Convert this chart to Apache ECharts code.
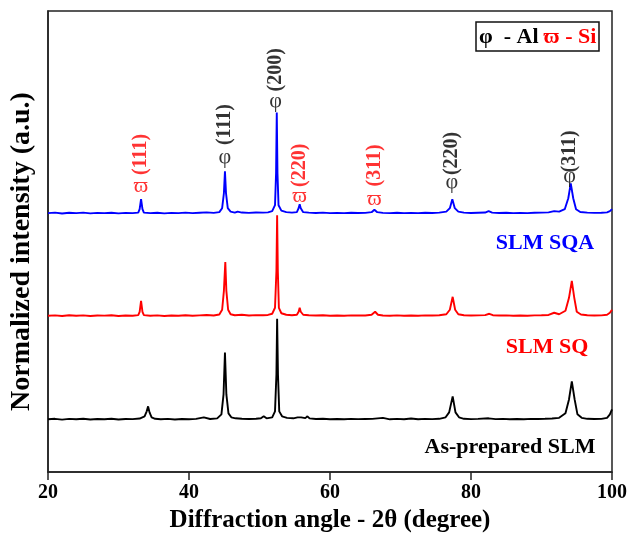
<!DOCTYPE html>
<html>
<head>
<meta charset="utf-8">
<script src="https://cdn.jsdelivr.net/npm/echarts@6/dist/echarts.min.js"></script>
<style>
html,body{margin:0;padding:0;background:#fff;}
#chart{width:630px;height:538px;}
</style>
</head>
<body>
<div id="chart"></div>
<script>
// ---- data (2θ in degrees, intensity in arbitrary units above each pattern's baseline) ----
var xTicks = [20, 40, 60, 80, 100];

var sqaPattern = [
[20,0],[21,0.5],[22,-0.3],[23,0.4],[24,0],[25,0.5],[26,-0.2],[27,0.3],[28,0],[29,0.4],[30,-0.2],[31,0.3],[32,0],[32.8,0.5],[33.0,4],[33.2,14],[33.4,4],[33.6,0.5],[34.5,0],[35.5,0.4],[36.5,-0.2],[37.5,0.3],[38.5,0],[39.5,0.5],[40.5,0],[41.5,0.4],[42.5,0.8],[43.5,0.3],[44.3,1],[44.7,5],[44.95,20],[45.1,42],[45.25,20],[45.5,5],[45.9,1.5],[46.5,0.5],[46.9,1.5],[47.5,0.6],[48.5,0.3],[49.5,0.6],[50.5,0.5],[51.2,0.8],[51.8,2],[52.2,8],[52.35,40],[52.45,101],[52.55,40],[52.7,8],[53.1,2.5],[53.8,1],[54.6,0.5],[55.3,1],[55.55,5],[55.7,9],[55.85,5],[56.2,1],[57,0.5],[58,0.2],[59,0.5],[60,0],[61,0.3],[62,0],[63,0.4],[64,0.2],[65,0.3],[65.9,1],[66.3,3.5],[66.7,1],[67.5,0.3],[68.5,0],[69.5,0.4],[70.5,0],[71.5,0.3],[72.5,0],[73.5,0.4],[74.5,0.2],[75.5,0.5],[76.5,1.5],[77.0,5],[77.35,14],[77.7,5],[78.2,1.5],[79,0.5],[80,0.2],[81,0.4],[82.0,0.6],[82.5,2],[83.0,0.5],[84,0.2],[85,0.4],[86,0],[87,0.3],[88,0],[89,0.4],[90,0.5],[91,0.8],[91.8,2],[92.5,1.5],[93.3,4],[93.8,15],[94.15,30],[94.5,15],[94.9,4],[95.5,1.2],[96.5,0.5],[97.5,0.3],[98.5,0.4],[99.3,0.8],[99.7,2],[100,4]
];

var sqPattern = [
[20,0],[21,0.4],[22,-0.3],[23,0.5],[24,0],[25,0.4],[26,-0.2],[27,0.3],[28,0.1],[29,0.5],[30,-0.2],[31,0.3],[32,0],[32.8,0.6],[33.0,4],[33.2,15],[33.4,4],[33.6,0.6],[34.5,0],[35.5,0.4],[36.5,-0.2],[37.5,0.3],[38.5,0],[39.5,0.5],[40.5,0],[41.5,0.4],[42.5,0.8],[43.5,0.3],[44.3,1.2],[44.7,6],[44.95,25],[45.15,54],[45.3,25],[45.55,6],[45.9,1.5],[46.5,0.5],[47.5,1],[48.5,0.3],[49.5,0.6],[50.5,0.5],[51.2,0.8],[51.8,2],[52.2,8],[52.4,45],[52.5,101],[52.6,45],[52.75,8],[53.1,2.5],[53.8,1],[54.6,0.5],[55.3,1],[55.55,4],[55.7,8],[55.85,4],[56.2,1],[57,0.5],[58,0.2],[59,0.5],[60,0],[61,0.3],[62,0],[63,0.4],[64,0.2],[65,0.3],[65.9,1],[66.4,4],[66.8,1],[67.5,0.3],[68.5,0],[69.5,0.4],[70.5,0],[71.5,0.3],[72.5,0],[73.5,0.4],[74.5,0.2],[75.5,0.5],[76.5,1.5],[77.0,6],[77.4,19],[77.75,6],[78.2,1.5],[79,0.5],[80,0.2],[81,0.4],[82.0,0.6],[82.6,2],[83.1,0.5],[84,0.2],[85,0.4],[86,0],[87,0.3],[88,0],[89,0.4],[90,0.5],[91,0.8],[91.8,3],[92.5,1.5],[93.4,5],[93.9,18],[94.3,35],[94.65,18],[95.0,4],[95.6,1.2],[96.5,0.5],[97.5,0.3],[98.5,0.4],[99.3,1],[99.7,3],[100,6]
];

var asPreparedPattern = [
[20,0],[21,0.5],[22,-0.3],[23,0.4],[24,0],[25,0.5],[26,-0.2],[27,0.3],[28,0],[29,0.5],[30,-0.2],[31,0.3],[32,0.2],[33,0.8],[33.7,3],[34.0,8],[34.2,13],[34.4,7],[34.7,2],[35.2,0.5],[36,0],[37,0.4],[38,-0.2],[39,0.3],[40,0],[41,0.4],[42.1,2],[43,0.3],[44,1],[44.6,5],[44.9,25],[45.1,67],[45.3,25],[45.6,6],[46,2],[46.6,1],[47.5,0.5],[48.5,0.3],[49.5,0.6],[50.2,1],[50.6,3],[51.0,1],[51.8,2],[52.2,8],[52.4,45],[52.5,101],[52.62,45],[52.8,8],[53.2,3],[53.9,1.5],[54.8,1],[55.4,2],[55.65,4],[55.9,2],[56.5,1.2],[56.8,3],[57.1,1],[58,0.3],[59,0.5],[60,0],[61,0.3],[62,0],[63,0.4],[64,0.2],[65,0.3],[66,0.4],[67.5,1.5],[68.5,0],[69.5,0.4],[70.5,0],[71.5,0.8],[72.5,0],[73.5,0.4],[74.5,0.2],[75.5,0.5],[76.4,2],[76.9,7],[77.4,23],[77.8,7],[78.3,2],[79,0.5],[80,0.2],[81,0.4],[82.5,1],[83.5,0.2],[84.5,0.4],[85.5,0],[86.5,0.3],[87.5,0],[88.5,0.4],[89.5,0.3],[90.5,0.5],[91.5,0.8],[92.5,1.5],[93.4,6],[93.9,20],[94.3,38],[94.7,20],[95.1,5],[95.7,1.5],[96.5,0.5],[97.5,0.3],[98.5,0.4],[99.3,1.5],[99.7,5],[100,10]
];

// vertical offsets (stacking of the patterns)
var patternOffsets = { asPrepared: 53, sq: 157, sqa: 260 };

// peak annotations (on the SLM SQA pattern)
var annoAngles = [33.2, 45.1, 52.3, 55.7, 66.3, 77.3, 94.0];
var annoPhase  = ['Si', 'Al', 'Al', 'Si', 'Si', 'Al', 'Al'];
var annoHkl    = ['(111)', '(111)', '(200)', '(220)', '(311)', '(220)', '(311)'];
var annoSymbolY = [287, 316, 372, 277, 274, 291, 297];
var annoTextY   = [319, 349, 404, 308, 308, 320, 322];

var phaseSymbol = { Al: 'φ', Si: 'ϖ' };
var phaseColor  = { Al: '#000000', Si: '#ff0000' };

// ---- build ----
function shift(arr, off) { return arr.map(function (p) { return [p[0], p[1] + off]; }); }

var FONT = "'Liberation Serif', 'Times New Roman', serif";

var symData = annoAngles.map(function (a, i) {
  return { value: [a, annoSymbolY[i]], label: { formatter: phaseSymbol[annoPhase[i]], color: phaseColor[annoPhase[i]] } };
});
var hklData = annoAngles.map(function (a, i) {
  return { value: [a, annoTextY[i]], label: { formatter: annoHkl[i], color: phaseColor[annoPhase[i]] } };
});

var chart = echarts.init(document.getElementById('chart'), null, { renderer: 'canvas' });
chart.setOption({
  animation: false,
  backgroundColor: '#ffffff',
  grid: { left: 46, right: 17, top: 11, bottom: 64, show: true, borderColor: '#222', borderWidth: 1.5, backgroundColor: 'transparent' },
  xAxis: {
    type: 'value', min: 20, max: 100, interval: 20,
    name: 'Diffraction angle - 2θ (degree)', nameLocation: 'middle', nameGap: 35,
    nameTextStyle: { fontFamily: FONT, fontWeight: 'bold', fontSize: 25, color: '#000' },
    axisLine: { lineStyle: { color: '#222', width: 1.5 } },
    axisTick: { show: true, length: 8, inside: false, lineStyle: { color: '#222', width: 1.5 } },
    axisLabel: { fontFamily: FONT, fontWeight: 'bold', fontSize: 20, color: '#000', margin: 11,
      formatter: function (v) { return xTicks.indexOf(v) >= 0 ? String(v) : ''; } },
    splitLine: { show: false }
  },
  yAxis: {
    type: 'value', min: 0, max: 463,
    name: 'Normalized intensity (a.u.)', nameLocation: 'middle', nameGap: 12,
    nameTextStyle: { fontFamily: FONT, fontWeight: 'bold', fontSize: 28, color: '#000', padding: [0, 20, 0, 0] },
    axisLine: { show: true, lineStyle: { color: '#222', width: 1.5 } },
    axisTick: { show: false }, axisLabel: { show: false }, splitLine: { show: false }
  },
  title: {
    text: '{a|φ  - Al} {b|ϖ - Si}',
    left: 476, top: 22,
    borderColor: '#111', borderWidth: 1.5, padding: [4, 3, 3, 3],
    textStyle: { rich: {
      a: { fontFamily: FONT, fontWeight: 'bold', fontSize: 22, color: '#000' },
      b: { fontFamily: FONT, fontWeight: 'bold', fontSize: 22, color: '#ff0000' }
    } }
  },
  graphic: [
    { type: 'text', x: 545, y: 243, style: { text: 'SLM SQA', fill: '#0000ff', font: 'bold 22px ' + FONT, textAlign: 'center', textVerticalAlign: 'middle' } },
    { type: 'text', x: 547, y: 347, style: { text: 'SLM SQ', fill: '#ff0000', font: 'bold 22px ' + FONT, textAlign: 'center', textVerticalAlign: 'middle' } },
    { type: 'text', x: 510, y: 447, style: { text: 'As-prepared SLM', fill: '#000000', font: 'bold 22px ' + FONT, textAlign: 'center', textVerticalAlign: 'middle' } }
  ],
  series: [
    { type: 'line', name: 'As-prepared SLM', data: shift(asPreparedPattern, patternOffsets.asPrepared), showSymbol: false, lineStyle: { color: '#000', width: 1.9 }, z: 3 },
    { type: 'line', name: 'SLM SQ', data: shift(sqPattern, patternOffsets.sq), showSymbol: false, lineStyle: { color: '#ff0000', width: 1.9 }, z: 4 },
    { type: 'line', name: 'SLM SQA', data: shift(sqaPattern, patternOffsets.sqa), showSymbol: false, lineStyle: { color: '#0000ff', width: 1.9 }, z: 5 },
    { type: 'scatter', data: symData, symbolSize: 1, itemStyle: { color: 'rgba(0,0,0,0)' }, z: 6,
      label: { show: true, position: 'inside', fontFamily: FONT, fontSize: 22 } },
    { type: 'scatter', data: hklData, symbolSize: 1, itemStyle: { color: 'rgba(0,0,0,0)' }, z: 6,
      label: { show: true, position: 'inside', rotate: 90, fontFamily: FONT, fontWeight: 'bold', fontSize: 20 } }
  ]
});
</script>
</body>
</html>
